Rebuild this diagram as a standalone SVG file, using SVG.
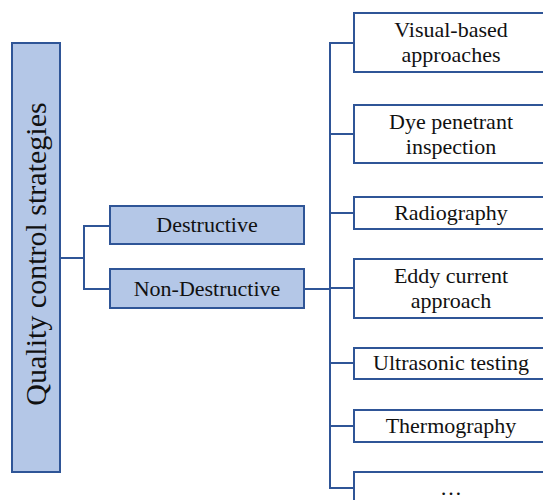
<svg xmlns="http://www.w3.org/2000/svg" width="543" height="500" viewBox="0 0 543 500">
<style>
.fill{fill:#b4c7e7;stroke:#2f5597;stroke-width:2}
.box{fill:#ffffff;stroke:#2f5597;stroke-width:2}
.ln{fill:none;stroke:#2f5597;stroke-width:2}
text{font-family:"Liberation Serif","DejaVu Serif",serif;font-size:22px;fill:#111;text-anchor:middle}
text.title{font-size:30px}
</style>
<rect width="543" height="500" fill="#ffffff"/>
<g id="connectors">
<polyline class="ln" points="60,258 84,258"/>
<polyline class="ln" points="110,226 84,226 84,289 110,289"/>
<polyline class="ln" points="304,289 330,289"/>
<polyline class="ln" points="354,43 330,43 330,488 354,488"/>
<line class="ln" x1="330" y1="134" x2="354" y2="134"/>
<line class="ln" x1="330" y1="213" x2="354" y2="213"/>
<line class="ln" x1="330" y1="288" x2="354" y2="288"/>
<line class="ln" x1="330" y1="363" x2="354" y2="363"/>
<line class="ln" x1="330" y1="426" x2="354" y2="426"/>
</g>
<g id="root">
<rect class="fill" x="12" y="43" width="48" height="429"/>
<text class="title" transform="translate(46,254) rotate(-90)">Quality control strategies</text>
</g>
<g id="destructive">
<rect class="fill" x="110" y="206" width="194" height="38"/>
<text x="207" y="232">Destructive</text>
</g>
<g id="non-destructive">
<rect class="fill" x="110" y="269" width="194" height="39"/>
<text x="207" y="296">Non-Destructive</text>
</g>
<g id="visual">
<rect class="box" x="354" y="13" width="194" height="59"/>
<text x="451" y="37">Visual-based</text>
<text x="451" y="62">approaches</text>
</g>
<g id="dye">
<rect class="box" x="354" y="105" width="194" height="58"/>
<text x="451" y="129">Dye penetrant</text>
<text x="451" y="154">inspection</text>
</g>
<g id="radiography">
<rect class="box" x="354" y="197" width="194" height="32"/>
<text x="451" y="220">Radiography</text>
</g>
<g id="eddy">
<rect class="box" x="354" y="259" width="194" height="59"/>
<text x="451" y="283">Eddy current</text>
<text x="451" y="308">approach</text>
</g>
<g id="ultrasonic">
<rect class="box" x="354" y="348" width="194" height="31"/>
<text x="451" y="370">Ultrasonic testing</text>
</g>
<g id="thermography">
<rect class="box" x="354" y="410" width="194" height="32"/>
<text x="451" y="433">Thermography</text>
</g>
<g id="more">
<rect class="box" x="354" y="472" width="194" height="40"/>
<text x="451" y="495">…</text>
</g>
</svg>
